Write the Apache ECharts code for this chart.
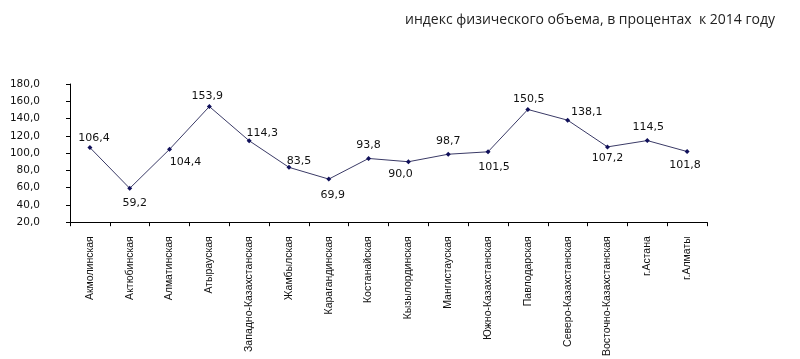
<!DOCTYPE html>
<html><head><meta charset="utf-8">
<script src="https://cdn.jsdelivr.net/npm/echarts@6/dist/echarts.min.js"></script>
<style>html,body{margin:0;padding:0;background:#fff}#c{width:800px;height:359px}</style>
</head><body><div id="c"></div>
<script>
var categories = ['Акмолинская','Актюбинская','Алматинская','Атырауская','Западно-Казахстанская','Жамбылская','Карагандинская','Костанайская','Кызылординская','Мангистауская','Южно-Казахстанская','Павлодарская','Северо-Казахстанская','Восточно-Казахстанская','г.Астана','г.Алматы'];
var values = [106.4,59.2,104.4,153.9,114.3,83.5,69.9,93.8,90.0,98.7,101.5,150.5,138.1,107.2,114.5,101.8];
var yTicks = [20,40,60,80,100,120,140,160,180];
var labelOffsets = [[4,-9],[5,15],[16,13],[-2,-10],[13,-8],[10,-6],[4,16],[0,-13],[-8,12],[0,-13],[6,15],[1,-10],[19,-8],[0,11],[1,-13],[-2,14]];

var chart = echarts.init(document.getElementById('c'));
chart.setOption({
  animation:false,
  title:{text:'индекс физического объема, в процентах  к 2014 году',right:20,top:8,textStyle:{fontFamily:'Open Sans',fontSize:14,fontWeight:'normal',color:'#222'}},
  grid:{left:70,right:93,top:84,bottom:136},
  xAxis:{type:'category',data:categories,boundaryGap:true,
    axisLine:{lineStyle:{color:'#000',width:1}},
    axisTick:{show:true,length:4,lineStyle:{color:'#000'}},
    axisLabel:{rotate:90,interval:0,fontFamily:'Liberation Sans Narrow, Liberation Sans',fontSize:10.5,color:'#111',margin:14}},
  yAxis:{type:'value',min:20,max:180,interval:20,
    axisLine:{show:true,lineStyle:{color:'#000',width:1}},
    axisTick:{show:true,length:4,lineStyle:{color:'#000'}},
    splitLine:{show:false},
    axisLabel:{formatter:function(v){return yTicks.indexOf(v)>=0? v.toFixed(1).replace('.',','):'';},fontFamily:'DejaVu Sans',fontSize:10.5,color:'#111',margin:30}},
  series:[{type:'line',
    data:values.map(function(v,i){return {value:v,label:{offset:labelOffsets[i]}};}),
    symbol:'diamond',symbolSize:5,
    lineStyle:{color:'#3a3a66',width:1},
    itemStyle:{color:'#10105a'},
    label:{show:true,position:'inside',formatter:function(p){return p.value.toFixed(1).replace('.',',');},fontFamily:'DejaVu Sans',fontSize:11,color:'#111'}
  }]
});
</script></body></html>
